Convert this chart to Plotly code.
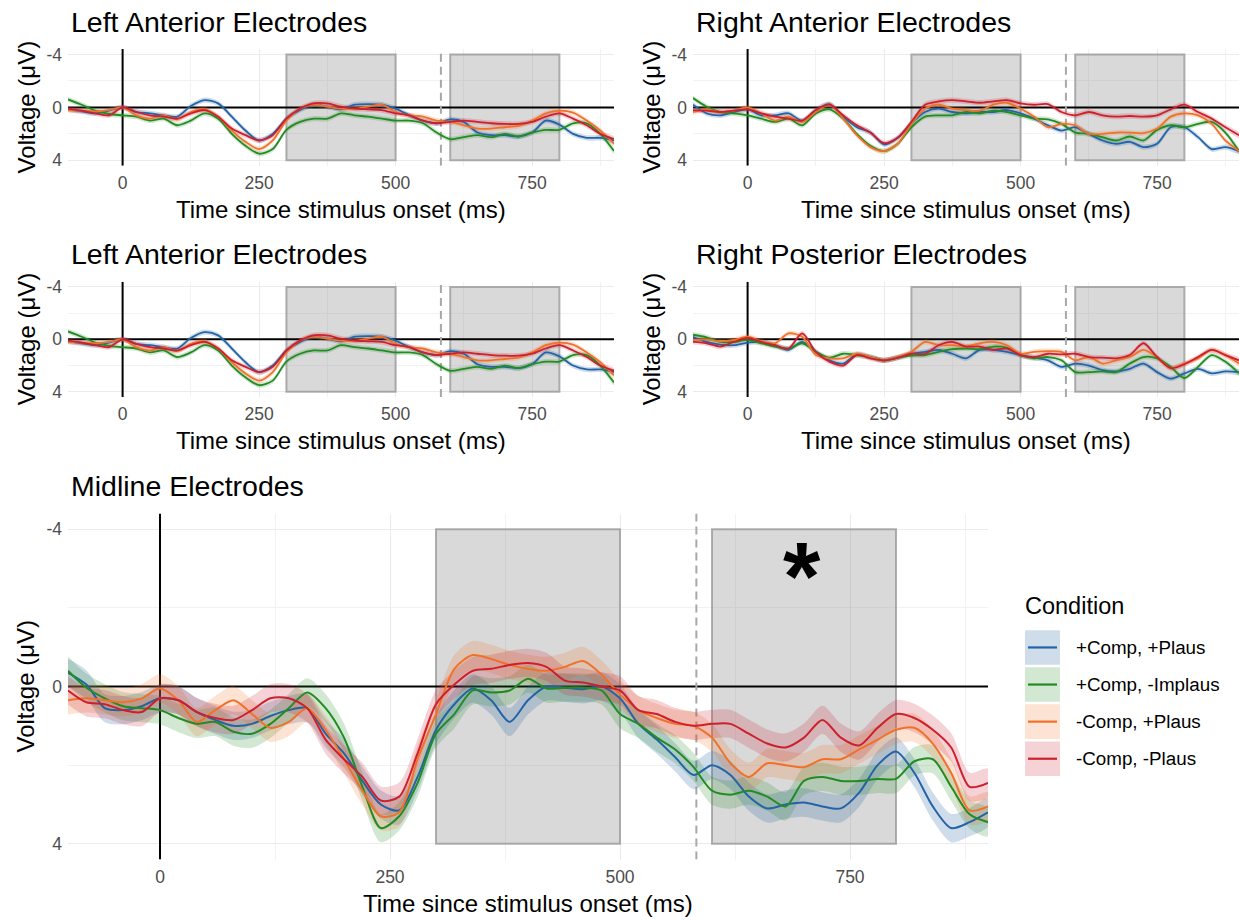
import plotly.graph_objects as go

# ---------------- data ----------------
conditions = ["+Comp, +Plaus", "+Comp, -Implaus", "-Comp, +Plaus", "-Comp, -Plaus"]
line_colors = ["#2464A6", "#238B23", "#F0722A", "#CD1F2C"]
fill_colors = ["rgba(36,100,166,0.22)", "rgba(35,139,35,0.2)", "rgba(240,114,42,0.2)", "rgba(205,31,44,0.2)"]

panel_titles = ["Left Anterior Electrodes", "Right Anterior Electrodes",
                "Left Anterior Electrodes", "Right Posterior Electrodes",
                "Midline Electrodes"]
x_label = "Time since stimulus onset (ms)"
y_label = "Voltage (μV)"

time_small = list(range(-100, 901, 25))
time_mid = list(range(-100, 901, 20))

x_range = [-100, 900]
y_range = [4.4, -4.4]
x_ticks = [0, 250, 500, 750]
x_minor = [125, 375, 625, 875]
y_ticks = [-4, 0, 4]
y_minor = [-2, 2]
windows = [(300, 500), (600, 800)]
dashed_at = 583
star_at = (698, -3.05)
ci_small = 0.2
ci_mid = 0.36

# Left anterior
la_comp_plaus = [0.15, 0.3, 0.45, 0.25, 0.0, 0.35, 0.45, 0.6, 0.7, -0.1, -0.55, -0.3, 0.7, 1.75, 2.5, 2.0,
                 0.85, 0.2, -0.2, -0.05, 0.15, -0.2, -0.25, -0.2, 0.1, 0.6, 1.0, 1.2, 0.9, 1.1, 1.9, 2.1,
                 2.1, 2.2, 1.9, 1.0, 1.3, 2.0, 2.3, 2.3, 2.5]
la_comp_implaus = [-0.6, -0.2, 0.25, 0.5, 0.6, 0.7, 1.0, 0.85, 1.35, 1.0, 0.45, 0.85, 2.0, 2.9, 3.5, 3.15,
                   1.7, 1.1, 0.85, 0.85, 0.45, 0.6, 0.7, 0.85, 1.0, 1.0, 1.2, 1.9, 2.4, 2.25, 2.1, 2.25,
                   2.0, 2.2, 1.9, 1.7, 1.7, 1.2, 1.2, 2.0, 3.3]
la_nocomp_plaus = [0.2, 0.25, 0.3, 0.2, 0.0, 0.6, 0.85, 0.6, 0.9, 0.35, 0.15, 0.7, 1.75, 2.6, 3.15, 2.5,
                   1.0, 0.1, -0.2, -0.05, 0.1, 0.1, -0.05, -0.2, 0.35, 0.6, 0.7, 1.0, 1.1, 1.35, 1.6, 1.6,
                   1.5, 1.4, 1.0, 0.45, 0.25, 0.4, 1.0, 1.75, 2.75]
la_nocomp_implaus = [0.1, 0.25, 0.45, 0.6, 0.0, 0.35, 0.6, 0.7, 0.85, 0.45, 0.2, 0.7, 1.6, 2.1, 2.5, 2.1,
                     0.85, 0.1, -0.3, -0.3, -0.05, 0.1, 0.15, 0.2, 0.45, 0.6, 1.0, 1.2, 1.1, 1.0, 1.1, 1.2,
                     1.25, 1.25, 1.1, 0.7, 0.45, 0.85, 1.35, 2.0, 2.4]

# Right anterior
ra_comp_plaus = [-0.2, 0.45, 0.6, 0.35, 0.15, 0.6, 0.6, 0.45, 1.0, 0.2, -0.25, 0.7, 1.5, 1.9, 2.8, 2.3,
                 1.2, 0.35, 0.1, 0.35, 0.45, 0.35, 0.35, 0.2, 0.45, 0.85, 1.35, 1.75, 1.5, 2.0, 2.5, 2.75,
                 2.6, 3.0, 2.75, 1.5, 1.5, 2.25, 3.15, 3.0, 3.3]
ra_comp_implaus = [-0.7, -0.05, 0.35, 0.45, 0.6, 0.85, 1.1, 0.85, 1.35, 0.45, 0.15, 0.85, 2.0, 2.9, 3.3, 2.75,
                   1.5, 0.7, 0.6, 0.6, 0.35, 0.45, 0.25, 0.35, 0.6, 0.85, 0.9, 1.25, 1.9, 2.0, 2.25, 2.5,
                   2.2, 2.5, 1.7, 1.35, 1.5, 1.25, 1.1, 1.9, 3.3]
ra_nocomp_plaus = [0.35, 0.15, 0.35, 0.25, 0.0, 0.45, 1.0, 0.7, 1.1, 0.35, -0.2, 0.85, 2.1, 3.0, 3.3, 2.75,
                   1.25, 0.1, -0.2, 0.1, 0.2, 0.25, -0.2, -0.35, 0.1, 0.7, 1.5, 1.25, 1.35, 2.0, 2.0, 1.9,
                   1.9, 1.95, 1.6, 0.7, 0.45, 0.6, 1.25, 2.5, 3.3]
ra_nocomp_implaus = [0.2, 0.25, 0.35, 0.25, 0.15, 0.45, 0.7, 0.85, 1.0, 0.2, -0.2, 0.6, 1.35, 1.9, 2.7, 2.3,
                     1.1, -0.2, -0.45, -0.55, -0.45, -0.35, -0.45, -0.55, -0.3, -0.2, -0.25, 0.35, 0.6, 0.35,
                     0.6, 0.7, 0.65, 0.7, 0.6, 0.15, -0.2, 0.35, 0.85, 1.5, 2.1]

# Right posterior
rp_comp_plaus = [-0.2, 0.2, 0.4, 0.45, 0.25, 0.2, 0.45, 0.8, 0.2, 0.95, 1.6, 1.85, 1.15, 1.35, 1.6, 1.4,
                 1.1, 0.95, 0.8, 1.1, 1.45, 0.8, 0.8, 0.95, 1.2, 1.4, 1.6, 2.1, 1.85, 2.0, 2.35, 2.45,
                 2.25, 1.85, 2.5, 3.0, 2.6, 2.25, 2.6, 2.45, 2.5]
rp_comp_implaus = [-0.35, -0.15, 0.2, 0.2, 0.05, 0.3, 0.55, 0.7, 0.3, 0.95, 1.4, 1.1, 1.2, 1.35, 1.6, 1.4,
                   1.25, 1.2, 0.95, 0.75, 0.7, 0.75, 0.55, 0.65, 1.2, 1.45, 1.35, 1.6, 2.5, 2.5, 2.45, 2.5,
                   1.85, 1.35, 1.45, 2.1, 2.95, 2.1, 1.2, 1.7, 2.6]
rp_nocomp_plaus = [0.05, 0.0, 0.15, 0.05, -0.2, 0.15, 0.3, -0.45, -0.2, 1.2, 1.45, 1.45, 1.1, 1.35, 1.6, 1.35,
                   0.95, 0.2, 0.45, 0.45, 0.55, 0.3, 0.2, 0.45, 1.1, 0.95, 0.9, 0.95, 1.6, 1.35, 1.85, 1.6,
                   1.35, 0.8, 1.35, 2.2, 1.85, 1.45, 0.8, 1.2, 1.85]
rp_nocomp_implaus = [0.2, 0.3, 0.55, 0.2, -0.1, 0.2, 0.45, 0.7, -0.45, 0.95, 1.7, 2.0, 1.2, 1.45, 1.6, 1.4,
                     1.1, 1.1, 0.45, 0.2, 0.55, 0.55, 0.8, 0.7, 1.2, 1.35, 1.1, 1.15, 1.1, 1.35, 1.4, 1.45,
                     1.2, 0.3, 1.35, 2.2, 1.9, 1.35, 0.8, 1.2, 1.6]

# Midline (20 ms steps)
mid_comp_plaus = [-0.35, -0.05, 0.55, 0.6, 0.5, 0.3, 0.35, 0.65, 0.85, 1.0, 0.95, 0.75, 0.6, 0.55, 1.2, 1.7,
                  2.4, 3.0, 3.15, 2.3, 1.1, 0.45, 0.05, 0.35, 0.9, 0.35, 0.0, 0.03, 0.07, 0.0, 0.3, 0.95,
                  1.35, 1.8, 2.25, 2.0, 2.25, 2.8, 3.1, 3.0, 2.95, 3.05, 3.1, 2.7, 2.0, 1.65, 2.2, 3.05,
                  3.6, 3.45, 3.2]
mid_comp_implaus = [-0.4, 0.03, 0.3, 0.5, 0.55, 0.6, 0.8, 0.95, 0.9, 1.15, 1.2, 0.95, 0.55, 0.15, 0.55, 1.3,
                    2.55, 3.6, 3.3, 2.45, 1.2, 0.7, 0.1, 0.15, 0.1, -0.2, 0.05, 0.03, 0.03, 0.1, 0.7, 0.95,
                    1.3, 1.6, 2.05, 2.65, 2.75, 2.65, 2.8, 3.05, 2.4, 2.3, 2.4, 2.4, 2.35, 2.35, 1.9, 1.85,
                    2.55, 3.25, 3.45]
mid_nocomp_plaus = [0.35, 0.3, 0.35, 0.4, 0.3, 0.05, 0.35, 0.9, 0.6, 0.35, 0.7, 1.05, 0.9, 0.55, 1.1, 1.85,
                    2.65, 3.3, 3.2, 1.85, 0.7, -0.45, -0.8, -0.7, -0.55, -0.45, -0.4, -0.5, -0.65, -0.3, 0.2,
                    0.6, 0.8, 0.95, 1.0, 1.3, 1.95, 2.3, 1.95, 2.0, 2.05, 1.85, 1.85, 1.6, 1.35, 1.1, 1.05,
                    1.45, 2.2, 3.15, 3.05]
mid_nocomp_implaus = [0.1, 0.4, 0.45, 0.6, 0.65, 0.3, 0.35, 0.65, 0.8, 0.85, 0.6, 0.3, 0.3, 0.55, 1.35, 1.85,
                      2.3, 2.9, 2.8, 1.7, 0.45, -0.05, -0.4, -0.45, -0.55, -0.6, -0.5, -0.15, -0.1, 0.0, 0.1,
                      0.6, 0.7, 0.9, 1.0, 0.95, 0.95, 1.2, 1.45, 1.55, 1.3, 0.85, 1.3, 1.5, 1.05, 0.7, 0.8,
                      1.1, 1.55, 2.55, 2.45]

# ---------------- layout geometry (pixels) ----------------
W, H = 1239, 921
FONT = "Liberation Sans, Arial, Helvetica, sans-serif"

panels = [
    dict(title=panel_titles[0], t=time_small, ci=ci_small,
         series=[la_comp_plaus, la_comp_implaus, la_nocomp_plaus, la_nocomp_implaus],
         box=(68, 614, 44.6, 162.4)),
    dict(title=panel_titles[1], t=time_small, ci=ci_small,
         series=[ra_comp_plaus, ra_comp_implaus, ra_nocomp_plaus, ra_nocomp_implaus],
         box=(693, 1239, 44.6, 162.4)),
    dict(title=panel_titles[2], t=time_small, ci=ci_small,
         series=[la_comp_plaus, la_comp_implaus, la_nocomp_plaus, la_nocomp_implaus],
         box=(68, 614, 279.7, 396.3)),
    dict(title=panel_titles[3], t=time_small, ci=ci_small,
         series=[rp_comp_plaus, rp_comp_implaus, rp_nocomp_plaus, rp_nocomp_implaus],
         box=(693, 1239, 279.7, 396.3)),
    dict(title=panel_titles[4], t=time_mid, ci=ci_mid,
         series=[mid_comp_plaus, mid_comp_implaus, mid_nocomp_plaus, mid_nocomp_implaus],
         box=(68, 988, 514.1, 863.9)),
]


def px(xp):
    return xp / W


def py(yp):
    return 1 - yp / H


fig = go.Figure()
shapes = []
annotations = []
layout_axes = {}
tick_font = dict(family=FONT, size=17.5, color="#4D4D4D")

for i, p in enumerate(panels, start=1):
    xs = "" if i == 1 else str(i)
    xref, yref = "x" + xs, "y" + xs
    x0, x1, y0, y1 = p["box"]
    t = p["t"]
    ci = p["ci"]
    # ribbons
    for k, vals in enumerate(p["series"]):
        upper = [v - ci for v in vals]
        lower = [v + ci for v in vals]
        fig.add_trace(go.Scatter(
            x=list(t) + list(t)[::-1], y=upper + lower[::-1],
            fill="toself", fillcolor=fill_colors[k], mode="lines",
            line=dict(width=0, shape="spline", smoothing=0.8),
            hoverinfo="skip", showlegend=False, xaxis=xref, yaxis=yref))
    # lines
    for k, vals in enumerate(p["series"]):
        fig.add_trace(go.Scatter(
            x=t, y=vals, mode="lines", name=conditions[k],
            line=dict(color=line_colors[k], width=2 if i == 5 else 1.8, shape="spline", smoothing=0.8),
            showlegend=False, xaxis=xref, yaxis=yref))

    layout_axes["xaxis" + xs] = dict(
        domain=[px(x0), px(x1)], anchor=yref, range=x_range,
        tickmode="array", tickvals=x_ticks, ticktext=[str(v) for v in x_ticks],
        showgrid=True, gridcolor="#EBEBEB", gridwidth=1.3,
        minor=dict(tickmode="array", tickvals=x_minor, showgrid=True, gridcolor="#F2F2F2", gridwidth=0.8),
        zeroline=False, showline=False, ticks="",
        tickfont=tick_font, ticklabelstandoff=5, fixedrange=True)
    layout_axes["yaxis" + xs] = dict(
        domain=[py(y1), py(y0)], anchor=xref, range=y_range,
        tickmode="array", tickvals=y_ticks, ticktext=[str(v) for v in y_ticks],
        showgrid=True, gridcolor="#EBEBEB", gridwidth=1.3,
        minor=dict(tickmode="array", tickvals=y_minor, showgrid=True, gridcolor="#F2F2F2", gridwidth=0.8),
        zeroline=False, showline=False, ticks="",
        tickfont=tick_font, ticklabelstandoff=5, fixedrange=True)

    # analysis windows
    for (a, b) in windows:
        shapes.append(dict(type="rect", xref=xref, yref=yref, x0=a, x1=b, y0=-4, y1=4,
                           fillcolor="rgba(128,128,128,0.3)",
                           line=dict(color="rgba(150,150,150,0.75)", width=2), layer="between"))
    # zero lines and dashed marker (data coordinates spanning the axis ranges)
    shapes.append(dict(type="line", xref=xref, yref=yref, x0=x_range[0], x1=x_range[1], y0=0, y1=0,
                       line=dict(color="black", width=2), layer="between"))
    shapes.append(dict(type="line", xref=xref, yref=yref, x0=0, x1=0, y0=y_range[0], y1=y_range[1],
                       line=dict(color="black", width=2), layer="between"))
    shapes.append(dict(type="line", xref=xref, yref=yref, x0=dashed_at, x1=dashed_at,
                       y0=y_range[0], y1=y_range[1],
                       line=dict(color="#A8A8A8", width=2, dash="8px,5px"), layer="between"))

    # titles
    annotations.append(dict(text=p["title"], xref="paper", yref="paper",
                            x=px(x0 + 1), y=py(y0 - 27.5), xanchor="left", yanchor="middle",
                            showarrow=False, font=dict(family=FONT, size=28.5, color="black")))
    annotations.append(dict(text=x_label, xref="paper", yref="paper",
                            x=px((x0 + x1) / 2), y=py(y1 + 44), xanchor="center", yanchor="middle",
                            showarrow=False, font=dict(family=FONT, size=24, color="black")))
    annotations.append(dict(text=y_label, xref="paper", yref="paper", textangle=-90,
                            x=px(x0 - 42), y=py((y0 + y1) / 2), xanchor="center", yanchor="middle",
                            showarrow=False, font=dict(family=FONT, size=24, color="black")))

# significance marker
annotations.append(dict(text="<b>*</b>", xref="x5", yref="y5", x=star_at[0], y=star_at[1],
                        xanchor="center", yanchor="middle", yshift=-9, showarrow=False,
                        font=dict(family=FONT, size=96, color="black")))

# custom legend (ggplot style keys)
annotations.append(dict(text="Condition", xref="paper", yref="paper", x=px(1023), y=py(608),
                        xanchor="left", yanchor="middle", showarrow=False,
                        font=dict(family=FONT, size=23.5, color="black")))
key_tops = [632, 669.5, 707, 744.5]
for k, cond in enumerate(conditions):
    top = key_tops[k]
    shapes.append(dict(type="rect", xref="paper", yref="paper", x0=px(1025), x1=px(1060),
                       y0=py(top + 35), y1=py(top), fillcolor=fill_colors[k], line=dict(width=0)))
    shapes.append(dict(type="line", xref="paper", yref="paper", x0=px(1028), x1=px(1057),
                       y0=py(top + 17.5), y1=py(top + 17.5), line=dict(color=line_colors[k], width=2.2)))
    annotations.append(dict(text=cond, xref="paper", yref="paper", x=px(1074), y=py(top + 17.5),
                            xanchor="left", yanchor="middle", showarrow=False,
                            font=dict(family=FONT, size=18.8, color="black")))

fig.update_layout(
    width=W, height=H, margin=dict(l=0, r=0, t=0, b=0),
    paper_bgcolor="white", plot_bgcolor="white",
    showlegend=False, shapes=shapes, annotations=annotations,
    font=dict(family=FONT),
    **layout_axes)

fig.write_html("out.html", config={"displayModeBar": False},
               post_script="document.body.style.margin='0';document.body.style.overflow='hidden';")
